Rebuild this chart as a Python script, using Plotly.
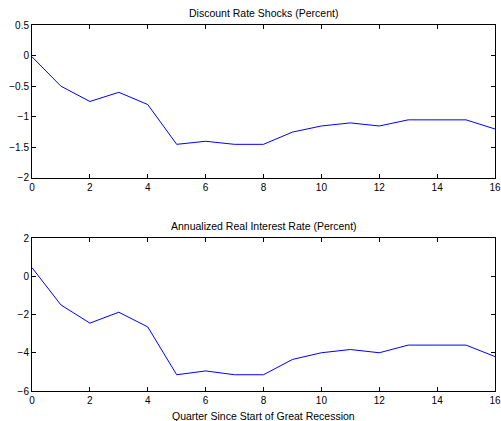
import plotly.graph_objects as go
from plotly.subplots import make_subplots

quarters = list(range(17))
discount_shocks = [-0.02, -0.5, -0.75, -0.6, -0.8, -1.45, -1.4, -1.45, -1.45, -1.25, -1.15, -1.1, -1.15, -1.05, -1.05, -1.05, -1.2]
real_rate = [0.45, -1.5, -2.45, -1.88, -2.65, -5.15, -4.95, -5.15, -5.15, -4.35, -4.0, -3.83, -4.0, -3.6, -3.6, -3.6, -4.2]

top_title = "Discount Rate Shocks (Percent)"
bottom_title = "Annualized Real Interest Rate (Percent)"
x_label = "Quarter Since Start of Great Recession"

FONT = dict(family="Liberation Sans, Arial", size=10, color="black")

fig = make_subplots(rows=2, cols=1, vertical_spacing=0.164)
fig.add_trace(go.Scatter(x=quarters, y=discount_shocks, mode="lines",
                         line=dict(color="#0000FF", width=1)), row=1, col=1)
fig.add_trace(go.Scatter(x=quarters, y=real_rate, mode="lines",
                         line=dict(color="#0000FF", width=1)), row=2, col=1)

axis_common = dict(showline=True, linecolor="black", linewidth=1, mirror="ticks",
                   ticks="inside", ticklen=4, tickcolor="black", showgrid=False,
                   zeroline=False, tickfont=FONT, automargin=False)

fig.update_xaxes(range=[0, 16], tick0=0, dtick=2, **axis_common)
fig.update_yaxes(**axis_common)
fig.update_yaxes(range=[-2, 0.5], dtick=0.5, row=1, col=1)
fig.update_yaxes(range=[-6, 2], dtick=2, row=2, col=1)

fig.update_layout(
    width=501, height=421,
    margin=dict(l=32, r=6, t=25, b=30),
    plot_bgcolor="white", paper_bgcolor="white",
    showlegend=False,
    annotations=[
        dict(text=top_title, x=0.5, y=1, xref="paper", yref="paper", yanchor="bottom", yshift=4,
             showarrow=False, font=dict(FONT, size=10.5)),
        dict(text=bottom_title, x=0.5, y=0.418, xref="paper", yref="paper", yanchor="bottom", yshift=4,
             showarrow=False, font=dict(FONT, size=10.5)),
        dict(text=x_label, x=0.5, y=0, xref="paper", yref="paper", yanchor="top", yshift=-17,
             showarrow=False, font=dict(FONT, size=10.5)),
    ],
)
fig.update_xaxes(domain=[0, 1])
fig.update_yaxes(domain=[0.582, 1], row=1, col=1)
fig.update_yaxes(domain=[0, 0.418], row=2, col=1)

fig.write_html("out.html",
               config={"displayModeBar": False},
               post_script="document.body.style.margin='0px';document.body.style.overflow='hidden';")
